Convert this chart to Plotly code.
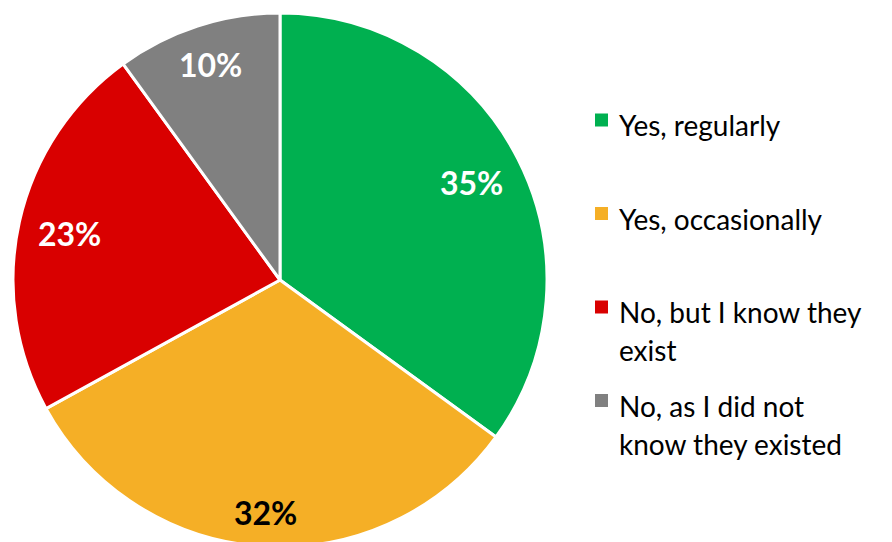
import math
import plotly.graph_objects as go

# Survey answers and their shares (percent)
categories = ["Yes, regularly", "Yes, occasionally",
              "No, but I know they exist", "No, as I did not know they existed"]
values = [35, 32, 23, 10]
legend_lines = [["Yes, regularly"], ["Yes, occasionally"],
                ["No, but I know they", "exist"], ["No, as I did not", "know they existed"]]
colors = ["#00B050", "#F5AF26", "#D90000", "#808080"]
label_colors = ["white", "black", "white", "white"]

W, H = 892, 550
CX, CY, R = 280, 280, 267          # pie centre / radius in pixels
FONT = "Lato, 'Open Sans', sans-serif"
LEGEND_SIZE = 28


def px_x(x):
    return x / W


def px_y(y):
    return 1 - y / H


fig = go.Figure(go.Pie(
    labels=categories,
    values=values,
    sort=False,
    direction="clockwise",
    rotation=0,
    marker=dict(colors=colors, line=dict(color="white", width=3)),
    textinfo="none",
    hoverinfo="label+percent",
    showlegend=False,
    domain=dict(x=[px_x(CX - 280), px_x(CX + 280)],
                y=[px_y(CY + R), px_y(CY - R)]),
))

annotations = []
shapes = []

# Percentage labels: "inside end" placement along each slice's bisector
total = sum(values)
box_w, box_h, r_in = 62, 23, 248
cum = 0
for v, c in zip(values, label_colors):
    mid = (cum + v / 2) / total * 2 * math.pi
    cum += v
    ux, uy = math.sin(mid), -math.cos(mid)
    lo, hi = 0.0, float(r_in)
    for _ in range(60):
        d = (lo + hi) / 2
        ex = abs(ux) * d + box_w / 2
        ey = abs(uy) * d + box_h / 2
        if math.hypot(ex, ey) > r_in:
            hi = d
        else:
            lo = d
    lx, ly = CX + ux * lo, CY + uy * lo
    annotations.append(dict(
        x=px_x(lx), y=px_y(ly), xref="paper", yref="paper",
        text=f"<b>{round(v / total * 100)}%</b>", showarrow=False,
        xanchor="center", yanchor="middle",
        font=dict(family=FONT, size=32, color=c),
    ))

# Legend on the right: square swatch + wrapped label lines
first_base, item_step, line_step = 136, 93.5, 38
sq_x0, sq_size, text_x = 595, 13, 617
mid_off = 0.387 * LEGEND_SIZE
for i, (lines, col) in enumerate(zip(legend_lines, colors)):
    base = first_base + i * item_step
    sc = base - 16
    shapes.append(dict(
        type="rect", xref="paper", yref="paper",
        x0=px_x(sq_x0), x1=px_x(sq_x0 + sq_size),
        y0=px_y(sc + sq_size / 2), y1=px_y(sc - sq_size / 2),
        fillcolor=col, line=dict(width=0),
    ))
    for j, t in enumerate(lines):
        b = base + j * line_step
        annotations.append(dict(
            x=px_x(text_x), y=px_y(b - mid_off), xref="paper", yref="paper",
            text=t, showarrow=False, xanchor="left", yanchor="middle",
            font=dict(family=FONT, size=LEGEND_SIZE, color="black"),
        ))

fig.update_layout(
    width=W, height=H,
    margin=dict(l=0, r=0, t=0, b=0),
    paper_bgcolor="white", plot_bgcolor="white",
    annotations=annotations, shapes=shapes,
    font=dict(family=FONT),
)

fig.write_html(
    "out.html",
    post_script="document.documentElement.style.overflow='hidden';"
                "document.body.style.overflow='hidden';document.body.style.margin='0';",
)
